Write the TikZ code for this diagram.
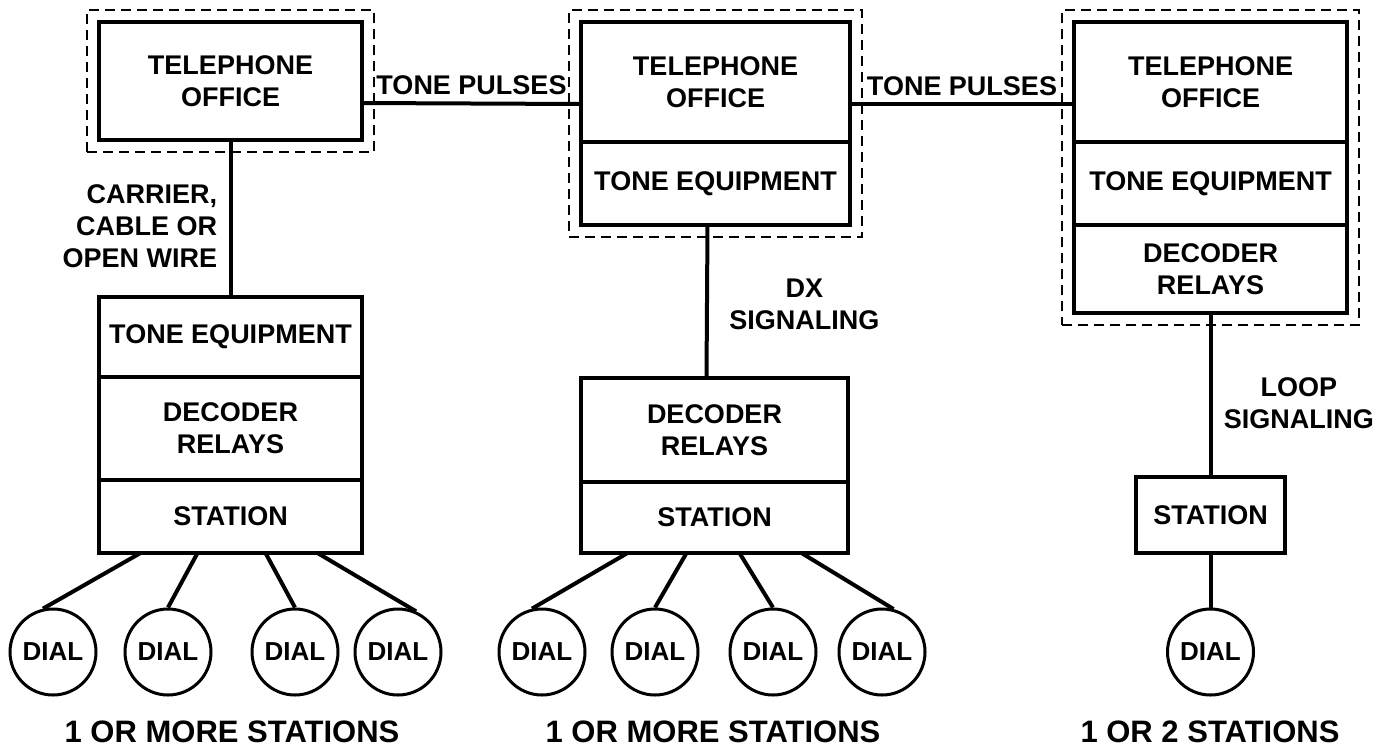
\documentclass[tikz,border=0pt]{standalone}
\usepackage{fontspec}
\setmainfont{Liberation Sans}
\usepackage{tikz}
\usetikzlibrary{
    calc,
    fit,
    positioning
}
\tikzstyle{wire}=[line width=4pt]

\begin{document}
\begin{tikzpicture}[
    x=1pt, y=-1pt,
    every node/.style={font=\fontsize{27}{32}\selectfont\bfseries},
    unit/.style={
        rectangle,
        draw,
        line width=4.5pt,
        outer sep=0pt,
        inner sep=2pt,
        align=center
    },
    shell/.style={
        draw,
        line width=2pt,
        dash pattern=on 10pt off 6pt,
        inner sep=12pt
    },
    dial/.style={
        circle,
        draw,
        line width=3pt,
        minimum size=86pt,
        inner sep=0pt,
        font=\fontsize{26}{28}\selectfont\bfseries
    },
    count/.style={font=\fontsize{31}{34}\selectfont\bfseries}
]
\useasboundingbox (0,0) rectangle (1381,753);

% left: office and remote station
\node[unit,minimum width=263pt,minimum height=118pt] (ofcA) at (230.5,81) {TELEPHONE\\OFFICE};
\node[unit,minimum width=263pt,minimum height=80pt] (toneA) at (230.5,337) {TONE EQUIPMENT};
\node[unit,minimum width=263pt,minimum height=103pt,below=0pt of toneA] (decA) {DECODER\\RELAYS};
\node[unit,minimum width=263pt,minimum height=73pt,below=0pt of decA] (staA) {STATION};

% middle: office with tone equipment
\node[unit,minimum width=269pt,minimum height=120pt] (ofcB) at (715.5,82) {TELEPHONE\\OFFICE};
\node[unit,minimum width=269pt,minimum height=83pt,below=0pt of ofcB] (toneB) {TONE EQUIPMENT};
\node[unit,minimum width=267pt,minimum height=104pt] (decB) at (714.5,430) {DECODER\\RELAYS};
\node[unit,minimum width=267pt,minimum height=71pt,below=0pt of decB] (staB) {STATION};

% right: office with tone equipment and decoder
\node[unit,minimum width=273pt,minimum height=120pt] (ofcC) at (1210.5,82) {TELEPHONE\\OFFICE};
\node[unit,minimum width=273pt,minimum height=83pt,below=0pt of ofcC] (toneC) {TONE EQUIPMENT};
\node[unit,minimum width=273pt,minimum height=88pt,below=0pt of toneC] (decC) {DECODER\\RELAYS};
\node[unit,minimum width=149pt,minimum height=76pt] (staC) at (1210.5,515) {STATION};

% office premises
\node[shell,fit=(ofcA)] (siteA) {};
\node[shell,fit=(ofcB)(toneB)] (siteB) {};
\node[shell,fit=(ofcC)(toneC)(decC)] (siteC) {};

% dials
\node[dial] (dA1) at (53,652) {DIAL};
\node[dial] (dA2) at (168,652) {DIAL};
\node[dial] (dA3) at (295,652) {DIAL};
\node[dial] (dA4) at (398,652) {DIAL};
\node[dial] (dB1) at (542,652) {DIAL};
\node[dial] (dB2) at (655,652) {DIAL};
\node[dial] (dB3) at (773,652) {DIAL};
\node[dial] (dB4) at (882,652) {DIAL};
\node[dial] (dC1) at (1210.5,652) {DIAL};

\node[count] (capA) at (232,732) {1 OR MORE STATIONS};
\node[count] (capB) at (713,732) {1 OR MORE STATIONS};
\node[count] (capC) at (1210,732) {1 OR 2 STATIONS};

% trunks
\draw[wire] ([yshift=-22pt]ofcA.east) -- node[above=3pt] {TONE PULSES} ([yshift=-22pt]ofcB.west);
\draw[wire] ([yshift=-22pt]ofcB.east) -- node[above=3pt] {TONE PULSES} ([yshift=-22pt]ofcC.west);
\draw[wire] (ofcA) -- node[left=8pt,align=right,pos=0.55] {CARRIER,\\CABLE OR\\OPEN WIRE} (toneA);
\draw[wire] ([xshift=-8pt]toneB.south) -- node[right=17pt,align=center,pos=0.52] {DX\\SIGNALING} ([xshift=-8pt]decB.north);
\draw[wire] (decC) -- node[right=8pt,align=center,pos=0.55] {LOOP\\SIGNALING} (staC);

% station lines
\draw[wire] ([xshift=-90pt]staA.south) -- (dA1.103);
\draw[wire] ([xshift=-33pt]staA.south) -- (dA2.north);
\draw[wire] ([xshift=35pt]staA.south) -- (dA3.north);
\draw[wire] ([xshift=87pt]staA.south) -- (dA4.66);
\draw[wire] ([xshift=-87pt]staB.south) -- (dB1.103);
\draw[wire] ([xshift=-28pt]staB.south) -- (dB2.north);
\draw[wire] ([xshift=25pt]staB.south) -- (dB3.north);
\draw[wire] ([xshift=87pt]staB.south) -- (dB4.75);
\draw[wire] (staC) -- (dC1);
\end{tikzpicture}
\end{document}
